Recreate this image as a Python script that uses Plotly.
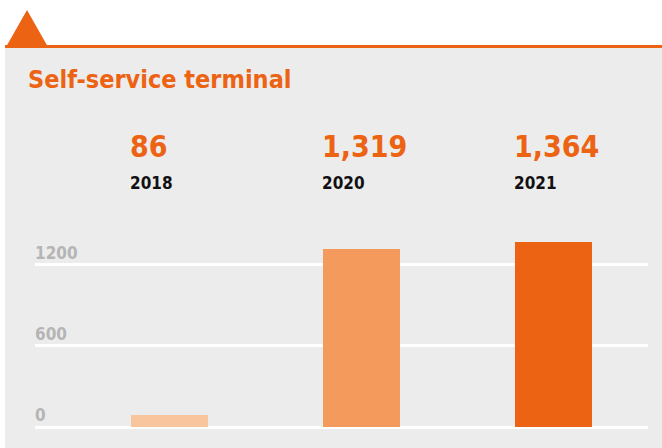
import plotly.graph_objects as go

years = ["2018", "2020", "2021"]
values = [86, 1319, 1364]
bar_colors = ["#f8c59c", "#f49a5c", "#ec6313"]
y_ticks = [0, 600, 1200]
title_text = "Self-service terminal"

ORANGE = "#ec6313"
W, H = 662, 448
ML, MR, MT, MB = 35, 14, 230, 21
PW = W - ML - MR
PH = H - MT - MB

def px_x(x):
    return (x - ML) / PW

def px_y(y):
    return (H - MB - y) / PH

FONT = "DejaVu Sans Condensed"

fig = go.Figure()
fig.add_trace(go.Bar(
    x=list(range(len(years))), y=values, width=0.4,
    marker=dict(color=bar_colors, line=dict(width=0)),
    hoverinfo="skip",
))

shapes = [
    dict(type="rect", xref="paper", yref="paper", x0=px_x(5), x1=px_x(W), y0=px_y(H), y1=px_y(47),
         fillcolor="#ececec", line=dict(width=0), layer="below"),
    dict(type="line", xref="paper", yref="paper", x0=px_x(5), x1=px_x(W), y0=px_y(46.5), y1=px_y(46.5),
         line=dict(color=ORANGE, width=3), layer="above"),
    dict(type="path", xref="paper", yref="paper",
         path=f"M {px_x(6)} {px_y(47)} L {px_x(48)} {px_y(47)} L {px_x(27)} {px_y(10)} Z",
         fillcolor=ORANGE, line=dict(width=0), layer="above"),
]

annotations = [
    dict(text=f"<b>{title_text}</b>", xref="paper", yref="paper", x=px_x(26), y=px_y(96),
         xanchor="left", yanchor="bottom", showarrow=False,
         font=dict(family=FONT, size=25, color=ORANGE)),
]
for i, (yr, v) in enumerate(zip(years, values)):
    annotations.append(dict(text=f"<b>{v:,}</b>", xref="x", yref="paper", x=i - 0.2, y=px_y(146),
                            xanchor="left", yanchor="middle", showarrow=False, xshift=-3,
                            font=dict(family=FONT, size=30, color=ORANGE)))
    annotations.append(dict(text=f"<b>{yr}</b>", xref="x", yref="paper", x=i - 0.2, y=px_y(183),
                            xanchor="left", yanchor="middle", showarrow=False, xshift=-3,
                            font=dict(family=FONT, size=17, color="#111111")))

fig.update_layout(
    width=W, height=H,
    margin=dict(l=ML, r=MR, t=MT, b=MB, pad=0),
    paper_bgcolor="white", plot_bgcolor="rgba(0,0,0,0)",
    showlegend=False, bargap=0,
    shapes=shapes, annotations=annotations,
    xaxis=dict(range=[-0.70, -0.70 + PW / 192], showgrid=False, zeroline=False,
               showticklabels=False, ticks="", fixedrange=True),
    yaxis=dict(range=[0, PH / (81.2 / 600)], tickvals=y_ticks,
               ticktext=[f"<b>{t}</b>" for t in y_ticks],
               showgrid=True, gridcolor="white", gridwidth=3,
               zeroline=True, zerolinecolor="white", zerolinewidth=3,
               ticklabelposition="inside top", ticklabelstandoff=-3, ticks="",
               tickfont=dict(family=FONT, size=17, color="#b5b5b5"),
               fixedrange=True),
)

fig.write_html("out.html", config={"displayModeBar": False},
               post_script="document.body.style.margin='0px';")
